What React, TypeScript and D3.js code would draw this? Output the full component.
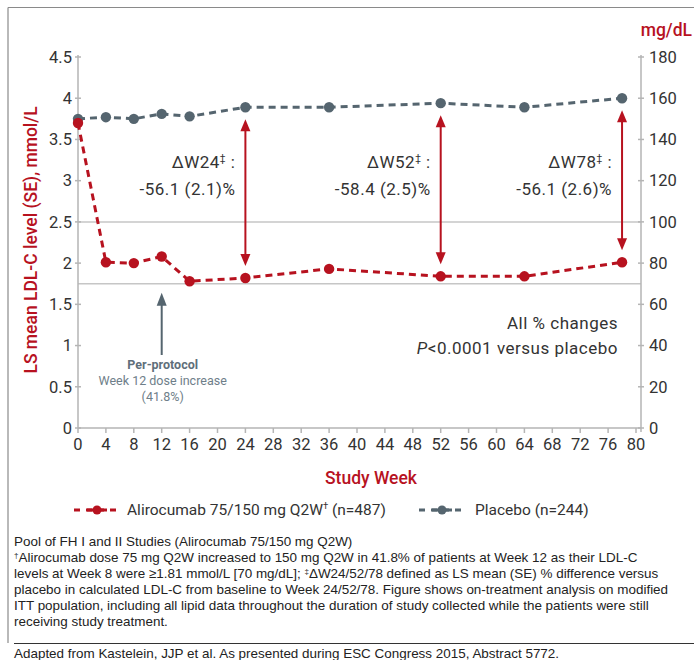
import React from "react";
import * as d3 from "d3";

const weeks = [0, 4, 8, 12, 16, 24, 36, 52, 64, 78];
const alirocumab = [3.7, 2.01, 2.0, 2.08, 1.78, 1.82, 1.93, 1.84, 1.84, 2.01];
const placebo = [3.75, 3.77, 3.75, 3.81, 3.78, 3.89, 3.89, 3.94, 3.89, 4.0];
const leftTicks = [0, 0.5, 1, 1.5, 2, 2.5, 3, 3.5, 4, 4.5];
const leftTickLabels = ["0", "0.5", "1", "1.5", "2", "2.5", "3", "3.5", "4", "4.5"];
const rightTicks = [0, 20, 40, 60, 80, 100, 120, 140, 160, 180];
const xTicks = d3.range(0, 81, 4);
const gridMgdl = [100, 70];
const deltaWeeks = [24, 52, 78];
const deltaLabels = ["\u0394W24", "\u0394W52", "\u0394W78"];
const deltaValues = ["-56.1 (2.1)%", "-58.4 (2.5)%", "-56.1 (2.6)%"];
const footnotes = [
  "Pool of FH I and II Studies (Alirocumab 75/150 mg Q2W)",
  "\u2020Alirocumab dose 75 mg Q2W increased to 150 mg Q2W in 41.8% of patients at Week 12 as their LDL-C",
  "levels at Week 8 were \u22651.81 mmol/L [70 mg/dL]; \u2021\u0394W24/52/78 defined as LS mean (SE) % difference versus",
  "placebo in calculated LDL-C from baseline to Week 24/52/78. Figure shows on-treatment analysis on modified",
  "ITT population, including all lipid data throughout the duration of study collected while the patients were still",
  "receiving study treatment.",
];

const RED = "#b7121f";
const GREY = "#55656f";
const AXIS = "#b5b5b5";
const TXT = "#333333";
const FONT = "Roboto, 'DejaVu Sans', sans-serif";

function renderFoot(s: string) {
  const parts = s.split(/([\u2020\u2021])/).filter((p) => p !== "");
  const out: React.ReactNode[] = [];
  let raised = false;
  parts.forEach((p, i) => {
    if (p === "\u2020" || p === "\u2021") {
      out.push(
        <tspan key={i} fontSize={8} dy={-4}>
          {p}
        </tspan>
      );
      raised = true;
    } else {
      out.push(
        <tspan key={i} dy={raised ? 4 : 0}>
          {p}
        </tspan>
      );
      raised = false;
    }
  });
  return out;
}

export default function App() {
  const x = d3.scaleLinear().domain([0, 80]).range([78, 636]);
  const y = d3.scaleLinear().domain([0, 4.5]).range([428, 57]);
  const y2 = d3.scaleLinear().domain([0, 180]).range([428, 57]);
  const axL = 78;
  const axR = 641;

  const line = d3
    .line<number>()
    .x((_, i) => x(weeks[i]))
    .y((d) => y(d));

  const arrowHead = (tx: number, ty: number, dir: number, w = 5, l = 12) =>
    `M${tx},${ty} L${tx - w},${ty + dir * l} L${tx + w},${ty + dir * l} Z`;

  return (
    <svg
      width={694}
      height={660}
      style={{ position: "absolute", left: 0, top: 0, background: "#fff" }}
      fontFamily={FONT}
    >
      {/* frame */}
      <line x1={8} y1={7.5} x2={694} y2={7.5} stroke="#8a8a8a" strokeWidth={1.2} />
      <line x1={8} y1={7.5} x2={8} y2={643} stroke="#8a8a8a" strokeWidth={1.2} />
      <line x1={14} y1={643.5} x2={694} y2={643.5} stroke="#333" strokeWidth={1} />

      {/* gridlines */}
      {gridMgdl.map((g) => (
        <line key={g} x1={axL} x2={axR} y1={y2(g)} y2={y2(g)} stroke="#c6c6c6" strokeWidth={1.5} />
      ))}

      {/* axes */}
      <line x1={axL} x2={axL} y1={55} y2={428} stroke={AXIS} strokeWidth={1.5} />
      <line x1={axR} x2={axR} y1={55} y2={432} stroke={AXIS} strokeWidth={1.5} />
      <line x1={axL} x2={axR} y1={428} y2={428} stroke={AXIS} strokeWidth={1.5} />
      {leftTicks.map((t, i) => (
        <g key={t}>
          <line x1={axL - 3} x2={axL + 3} y1={y(t)} y2={y(t)} stroke={AXIS} strokeWidth={1.5} />
          <text x={72} y={y(t)} dy="0.35em" textAnchor="end" fontSize={16.5} fill={TXT}>
            {leftTickLabels[i]}
          </text>
        </g>
      ))}
      {rightTicks.map((t) => (
        <g key={t}>
          <line x1={axR - 3} x2={axR + 3} y1={y2(t)} y2={y2(t)} stroke={AXIS} strokeWidth={1.5} />
          <text x={649} y={y2(t)} dy="0.35em" textAnchor="start" fontSize={16.5} fill={TXT}>
            {t}
          </text>
        </g>
      ))}
      {xTicks.map((t) => (
        <g key={t}>
          <line x1={x(t)} x2={x(t)} y1={428} y2={433} stroke={AXIS} strokeWidth={1.5} />
          <text x={x(t)} y={444} dy="0.35em" textAnchor="middle" fontSize={16.5} fill={TXT}>
            {t}
          </text>
        </g>
      ))}

      {/* axis titles */}
      <text
        transform={`translate(31,240) rotate(-90)`}
        textAnchor="middle"
        dy="0.35em"
        fontSize={17.5}
        fontWeight={500}
        fill={RED}
      >
        LS mean LDL-C level (SE), mmol/L
      </text>
      <text x={692} y={30} dy="0.35em" textAnchor="end" fontSize={17.5} fontWeight={500} fill={RED}>
        mg/dL
      </text>
      <text x={371} y={478} dy="0.35em" textAnchor="middle" fontSize={17.5} fontWeight={500} fill={RED}>
        Study Week
      </text>

      {/* delta arrows */}
      {deltaWeeks.map((w) => {
        const i = weeks.indexOf(w);
        const top = y(placebo[i]) + 12;
        const bot = y(alirocumab[i]) - 12;
        const cx = x(w);
        return (
          <g key={w}>
            <line x1={cx} x2={cx} y1={top + 8} y2={bot - 8} stroke={RED} strokeWidth={2} />
            <path d={arrowHead(cx, top, 1)} fill={RED} />
            <path d={arrowHead(cx, bot, -1)} fill={RED} />
          </g>
        );
      })}

      {/* delta labels */}
      {deltaWeeks.map((w, k) => {
        const rx = x(w) - 10;
        return (
          <g key={w} fontSize={17} fill={TXT} letterSpacing={0.5}>
            <text x={rx} y={162} dy="0.35em" textAnchor="end">
              {deltaLabels[k]}
              <tspan fontSize={10} dy={-6}>
                {"\u2021"}
              </tspan>
              <tspan dy={6}>{" :"}</tspan>
            </text>
            <text x={rx} y={189} dy="0.35em" textAnchor="end">
              {deltaValues[k]}
            </text>
          </g>
        );
      })}

      {/* lines */}
      <path d={line(placebo) || ""} fill="none" stroke={GREY} strokeWidth={3} strokeDasharray="7,5" />
      {placebo.map((v, i) => (
        <circle key={i} cx={x(weeks[i])} cy={y(v)} r={5.2} fill={GREY} />
      ))}
      <path d={line(alirocumab) || ""} fill="none" stroke={RED} strokeWidth={3} strokeDasharray="7,5" />
      {alirocumab.map((v, i) => (
        <circle key={i} cx={x(weeks[i])} cy={y(v)} r={5.2} fill={RED} />
      ))}

      {/* per-protocol arrow */}
      <line x1={x(12)} x2={x(12)} y1={y2(70) + 18} y2={355} stroke={GREY} strokeWidth={2} />
      <path d={arrowHead(x(12), y2(70) + 9, 1, 5, 13)} fill={GREY} />
      <g textAnchor="middle" fontSize={12.5}>
        <text x={x(12) + 1} y={365} dy="0.35em" fontWeight={700} fill="#5f6f7a">
          Per-protocol
        </text>
        <text x={x(12) + 1} y={381} dy="0.35em" fill="#6e7e89">
          Week 12 dose increase
        </text>
        <text x={x(12) + 1} y={397} dy="0.35em" fill="#6e7e89">
          (41.8%)
        </text>
      </g>

      {/* p-value note */}
      <g textAnchor="end" fontSize={17} fill={TXT} letterSpacing={0.5}>
        <text x={618} y={323} dy="0.35em">
          All % changes
        </text>
        <text x={618} y={348} dy="0.35em">
          <tspan fontStyle="italic">P</tspan>
          {"<0.0001 versus placebo"}
        </text>
      </g>

      {/* legend */}
      <g>
        <line x1={74} x2={120} y1={510} y2={510} stroke={RED} strokeWidth={3} strokeDasharray="6,6" />
        <line x1={87} x2={107} y1={510} y2={510} stroke={RED} strokeWidth={3} />
        <circle cx={97} cy={510} r={4.5} fill={RED} />
        <text x={127} y={510} dy="0.35em" fontSize={15.5} fill={TXT}>
          Alirocumab 75/150 mg Q2W
          <tspan fontSize={9.5} dy={-6}>
            {"\u2020"}
          </tspan>
          <tspan dy={6}>{" (n=487)"}</tspan>
        </text>
        <line x1={419} x2={465} y1={510} y2={510} stroke={GREY} strokeWidth={3} strokeDasharray="6,6" />
        <line x1={432} x2={452} y1={510} y2={510} stroke={GREY} strokeWidth={3} />
        <circle cx={442} cy={510} r={4.5} fill={GREY} />
        <text x={475} y={510} dy="0.35em" fontSize={15.5} fill={TXT}>
          Placebo (n=244)
        </text>
      </g>

      {/* footnotes */}
      <g fontFamily="'Liberation Sans', Arial, sans-serif" fontSize={13.45} fill="#222">
        {footnotes.map((f, i) => (
          <text key={i} x={14} y={546 + i * 16}>
            {renderFoot(f)}
          </text>
        ))}
        <text x={14} y={658}>
          Adapted from Kastelein, JJP et al. As presented during ESC Congress 2015, Abstract 5772.
        </text>
      </g>
    </svg>
  );
}
